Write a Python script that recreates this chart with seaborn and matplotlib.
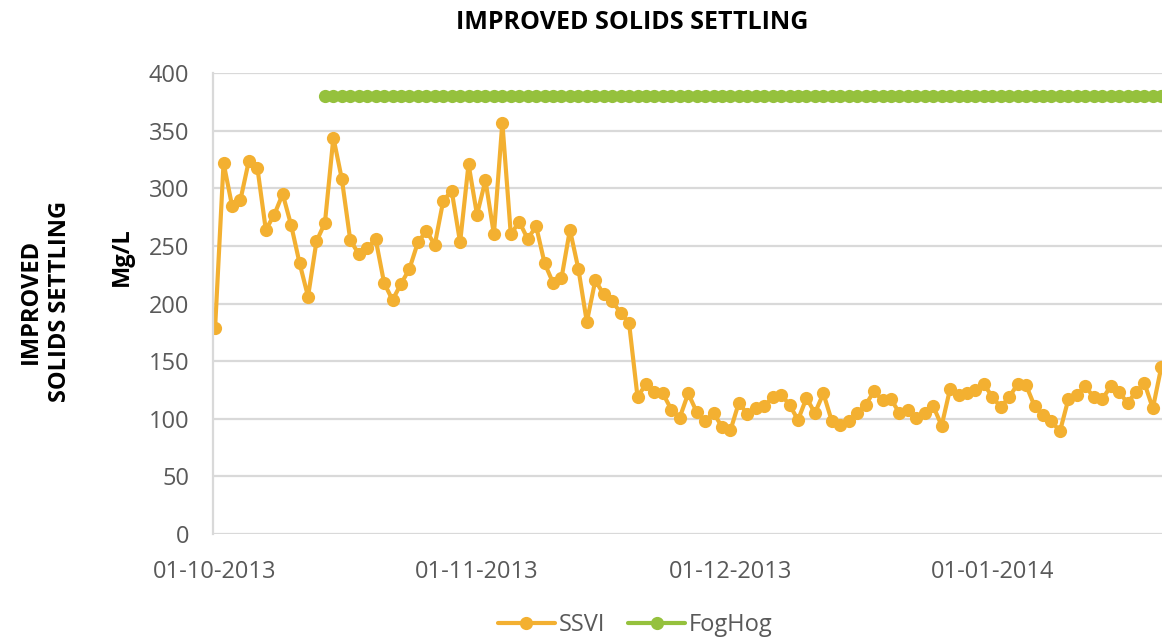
import pandas as pd
import matplotlib
matplotlib.use("Agg")
import matplotlib.pyplot as plt
import matplotlib.dates as mdates
import seaborn as sns

# daily SSVI readings starting 01-10-2013
ssvi = [179, 322, 285, 290, 324, 318, 264, 277, 295, 268,
        235, 206, 254, 270, 344, 308, 255, 243, 248, 256,
        218, 203, 217, 230, 253, 263, 251, 289, 298, 253,
        321, 277, 307, 260, 357, 260, 271, 256, 267, 235,
        218, 222, 264, 230, 184, 220, 208, 202, 192, 183,
        119, 130, 123, 122, 108, 101, 122, 106, 98, 105,
        93, 90, 114, 104, 109, 111, 119, 121, 112, 99,
        118, 105, 122, 98, 95, 98, 105, 112, 124, 116,
        117, 105, 108, 101, 105, 111, 94, 126, 121, 122,
        125, 130, 119, 110, 119, 130, 129, 111, 103, 98,
        89, 117, 121, 128, 119, 117, 128, 123, 114, 123,
        131, 109, 145]
start_date = "2013-10-01"

# FogHog target level, from 14-10-2013 onwards
foghog_start = "2013-10-14"
foghog_level = 380
foghog_days = 100

tick_dates = ["2013-10-01", "2013-11-01", "2013-12-01", "2014-01-01"]
y_ticks = [0, 50, 100, 150, 200, 250, 300, 350, 400]

ssvi_df = pd.DataFrame({"date": pd.date_range(start_date, periods=len(ssvi)), "value": ssvi})
fog_df = pd.DataFrame({"date": pd.date_range(foghog_start, periods=foghog_days),
                       "value": [foghog_level] * foghog_days})

orange = "#F3B031"
green = "#95C13D"
grey_text = "#595959"
grid_col = "#D9D9D9"

sns.set_style("white")
plt.rcParams["font.family"] = ["Open Sans", "DejaVu Sans"]

fig = plt.figure(figsize=(11.62, 6.41), dpi=100)
ax = fig.add_axes([0.1833, 0.1669, 0.8167, 0.7192])

sns.lineplot(data=ssvi_df, x="date", y="value", ax=ax, color=orange, linewidth=3,
             marker="o", markersize=9.5, markeredgewidth=0, label="SSVI")
sns.lineplot(data=fog_df, x="date", y="value", ax=ax, color=green, linewidth=3,
             marker="o", markersize=9.5, markeredgewidth=0, label="FogHog")

ax.set_ylim(0, 400)
ax.set_yticks(y_ticks)
ax.set_xlim(pd.Timestamp(start_date) - pd.Timedelta(hours=6),
            pd.Timestamp(start_date) + pd.Timedelta(days=len(ssvi) - 1, hours=2))
ax.set_xticks(pd.to_datetime(tick_dates))
ax.xaxis.set_major_formatter(mdates.DateFormatter("%d-%m-%Y"))

ax.grid(axis="y", color=grid_col, linewidth=1.6)
ax.set_axisbelow(True)
for side in ["top", "right", "bottom"]:
    ax.spines[side].set_visible(False)
ax.spines["left"].set_color(grid_col)
ax.spines["left"].set_linewidth(1.6)

ax.tick_params(axis="both", length=0, labelsize=17, labelcolor=grey_text)
ax.tick_params(axis="x", pad=19)
ax.tick_params(axis="y", pad=17)
ax.set_xlabel("")
ax.set_ylabel("")

fig.text(0.544, 0.965, "IMPROVED SOLIDS SETTLING", ha="center", va="center",
         fontsize=18, fontweight="bold", color="#000000")
fig.text(0.039, 0.53, "IMPROVED\nSOLIDS SETTLING", ha="center", va="center",
         rotation=90, fontsize=17, fontweight="bold", color="#000000",
         linespacing=1.25, multialignment="center")
fig.text(0.105, 0.6, "Mg/L", ha="center", va="center", rotation=90,
         fontsize=17, fontweight="bold", color="#000000")

ax.legend(loc="center", bbox_to_anchor=(0.445, -0.197),
          ncol=2, frameon=False, fontsize=17, handlelength=2.4, handletextpad=0.15,
          columnspacing=1.0, labelcolor=grey_text)

fig.savefig("out.png", dpi=100)
